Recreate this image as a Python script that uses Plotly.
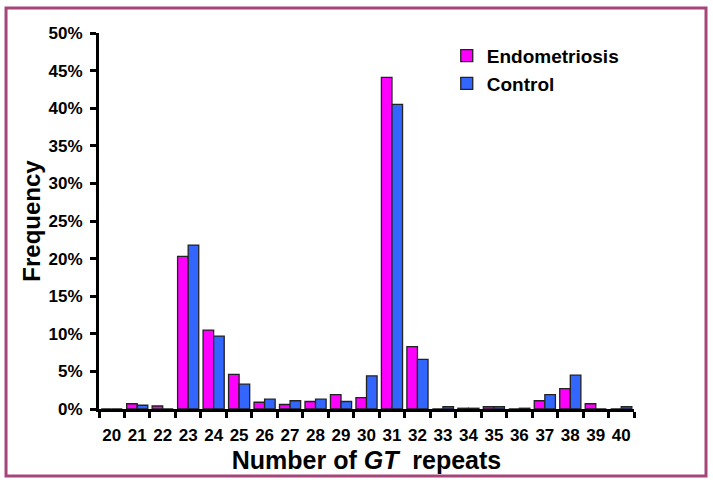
import plotly.graph_objects as go

repeats = [str(r) for r in range(20, 41)]
endometriosis = [0, 0.7, 0.4, 20.3, 10.5, 4.6, 0.9, 0.6, 1.0, 1.9, 1.5, 44.1, 8.3,
                 0.0, 0.1, 0.3, 0.0, 1.1, 2.7, 0.7, 0.0]
control = [0, 0.5, 0.0, 21.8, 9.7, 3.3, 1.3, 1.1, 1.3, 1.0, 4.4, 40.5, 6.6,
           0.3, 0.1, 0.3, 0.1, 1.9, 4.5, 0.0, 0.3]
ytick_vals = list(range(0, 51, 5))
ytick_text = [f"<b>{v}%</b>" for v in ytick_vals]

FONT = "Liberation Sans, Arial, sans-serif"

fig = go.Figure()
fig.add_trace(go.Bar(x=repeats, y=endometriosis, name="<b>Endometriosis</b>",
                     marker=dict(color="#FF00FF", line=dict(color="#222222", width=1.3))))
fig.add_trace(go.Bar(x=repeats, y=control, name="<b>Control</b>",
                     marker=dict(color="#3366FF", line=dict(color="#222222", width=1.3))))

fig.update_layout(
    width=713, height=488,
    margin=dict(l=99, r=79, t=33, b=79, autoexpand=False),
    paper_bgcolor="white", plot_bgcolor="white",
    barmode="group", bargap=0.17, bargroupgap=0,
    font=dict(family=FONT, color="black"),
    showlegend=True,
    legend=dict(x=0.65, y=0.99, xanchor="left", yanchor="top",
                bgcolor="rgba(0,0,0,0)", font=dict(size=19, family=FONT),
                itemwidth=30, tracegroupgap=0),
    xaxis=dict(type="category", tickson="boundaries", ticks="outside",
               ticklen=6, tickwidth=3, tickcolor="black", tickangle=0,
               automargin=False, ticklabelstandoff=9,
               showline=True, linecolor="black", linewidth=3,
               tickfont=dict(size=17, family=FONT),
               tickprefix="<b>", ticksuffix="</b>",
               title=dict(text="<b>Number of <i>GT</i>  repeats</b>", font=dict(size=25, family=FONT),
                          standoff=8),
               showgrid=False),
    yaxis=dict(range=[0, 50], tickvals=ytick_vals, ticktext=ytick_text,
               ticks="outside", ticklen=6, tickwidth=3, tickcolor="black",
               automargin=False, ticklabelstandoff=4,
               showline=True, linecolor="black", linewidth=3,
               tickfont=dict(size=17, family=FONT),
               title=dict(text="<b>Frequency</b>", font=dict(size=24, family=FONT), standoff=2),
               showgrid=False, zeroline=False),
    shapes=[dict(type="rect", xref="paper", yref="paper",
                 x0=-0.1738, x1=1.1346, y0=-0.178, y1=1.0665,
                 line=dict(color="#A5457A", width=3), layer="above")],
)

fig.write_html("out.html", config={"displayModeBar": False},
               post_script="document.body.style.margin='0';document.body.style.overflow='hidden';")
